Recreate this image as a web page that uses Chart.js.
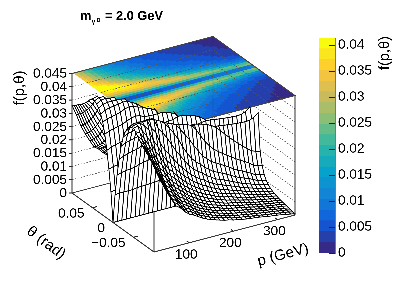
<!DOCTYPE html>
<html>
<head>
<meta charset="utf-8">
<style>
  html, body { margin: 0; padding: 0; background: #fff; }
  #wrap { position: relative; width: 399px; height: 291px; overflow: hidden; }
  #surfaceChart { position: absolute; left: 0; top: 0; }
  #barChart { position: absolute; left: 309px; top: 0; }
</style>
<script src="https://cdn.jsdelivr.net/npm/chart.js@4"></script>
</head>
<body>
<div id="wrap">
  <canvas id="surfaceChart" width="399" height="291"></canvas>
  <canvas id="barChart" width="90" height="291"></canvas>
</div>
<script>
// p in GeV, |theta| in rad, f in units of 1e-4 (one row per p)
const pValues = [20, 30, 40, 50, 60, 70, 80, 90, 100, 110, 120, 130, 140, 150, 160, 170, 180, 190, 200, 210, 220, 230, 240, 250, 260, 270, 280, 290, 300, 310, 320, 330, 340];
const thetaAbs = [0, 0.005, 0.01, 0.015, 0.02, 0.025, 0.03, 0.035, 0.04, 0.045, 0.05, 0.055, 0.06, 0.065, 0.07, 0.075, 0.08, 0.085, 0.09, 0.095, 0.1];
const fRows = [
  [0, 110, 190, 255, 310, 350, 375, 392, 402, 408, 410, 403, 391, 381, 371, 363, 355, 349, 342, 336, 330],
  [0, 112, 195, 262, 318, 358, 385, 402, 412, 416, 415, 394, 375, 360, 347, 335, 325, 315, 306, 298, 290],
  [0, 112, 198, 268, 322, 362, 390, 405, 414, 415, 392, 367, 346, 328, 312, 298, 285, 273, 263, 253, 245],
  [0, 112, 200, 272, 326, 365, 392, 405, 410, 400, 368, 340, 316, 296, 279, 264, 251, 239, 229, 219, 210],
  [0, 112, 202, 275, 330, 370, 395, 405, 410, 380, 338, 308, 284, 265, 248, 233, 220, 208, 198, 188, 180],
  [0, 115, 208, 282, 338, 378, 398, 404, 378, 336, 301, 274, 251, 232, 216, 202, 189, 178, 168, 160, 152],
  [0, 116, 212, 288, 345, 382, 398, 400, 358, 310, 278, 252, 232, 214, 199, 186, 174, 164, 155, 147, 140],
  [0, 116, 215, 292, 348, 378, 388, 362, 312, 275, 247, 224, 205, 189, 175, 164, 153, 144, 136, 129, 122],
  [0, 118, 218, 293, 345, 372, 380, 342, 285, 249, 223, 202, 184, 170, 157, 146, 136, 128, 120, 114, 108],
  [0, 118, 214, 287, 337, 368, 366, 318, 262, 230, 206, 187, 171, 157, 145, 135, 126, 119, 112, 106, 100],
  [0, 121, 217, 289, 336, 358, 345, 290, 240, 210, 187, 169, 154, 142, 131, 122, 114, 107, 100, 95, 90],
  [0, 125, 222, 292, 335, 352, 322, 262, 218, 190, 170, 153, 139, 127, 118, 109, 102, 95, 89, 84, 80],
  [0, 129, 228, 296, 335, 343, 295, 238, 198, 173, 154, 139, 126, 116, 107, 99, 92, 86, 81, 77, 72],
  [0, 134, 235, 302, 336, 320, 262, 215, 181, 159, 141, 127, 116, 106, 98, 90, 84, 79, 74, 70, 66],
  [0, 139, 241, 305, 331, 298, 234, 192, 164, 144, 128, 116, 105, 96, 89, 82, 77, 72, 67, 63, 60],
  [0, 142, 244, 305, 325, 275, 210, 175, 151, 133, 118, 106, 97, 88, 81, 75, 70, 66, 62, 58, 55],
  [0, 146, 248, 312, 318, 248, 192, 162, 139, 122, 108, 97, 88, 81, 74, 69, 64, 60, 56, 53, 50],
  [0, 151, 253, 313, 298, 224, 179, 151, 130, 114, 101, 91, 83, 76, 70, 65, 60, 56, 53, 50, 47],
  [0, 156, 257, 309, 270, 200, 163, 137, 118, 103, 92, 82, 74, 68, 63, 58, 54, 50, 47, 44, 42],
  [0, 161, 262, 304, 245, 185, 151, 127, 109, 96, 85, 77, 70, 63, 59, 54, 50, 47, 44, 41, 39],
  [0, 167, 270, 298, 224, 170, 138, 116, 100, 88, 78, 70, 64, 58, 54, 50, 46, 43, 40, 38, 36],
  [0, 168, 274, 290, 207, 161, 131, 110, 95, 83, 74, 67, 60, 55, 51, 47, 44, 41, 38, 36, 33],
  [0, 170, 276, 278, 194, 151, 123, 103, 88, 77, 68, 62, 56, 51, 47, 44, 40, 38, 35, 33, 31],
  [0, 172, 275, 262, 182, 142, 115, 96, 82, 71, 63, 56, 51, 47, 43, 40, 37, 34, 32, 30, 29],
  [0, 174, 272, 245, 171, 132, 106, 88, 76, 66, 59, 52, 47, 43, 40, 37, 34, 31, 30, 28, 27],
  [0, 176, 270, 228, 160, 121, 97, 81, 69, 60, 54, 48, 43, 39, 36, 33, 31, 29, 27, 25, 24],
  [0, 178, 268, 212, 149, 111, 89, 73, 62, 54, 48, 42, 38, 35, 32, 29, 27, 26, 24, 22, 21],
  [0, 182, 266, 197, 139, 104, 83, 67, 57, 49, 44, 39, 35, 32, 29, 27, 25, 23, 22, 20, 19],
  [0, 186, 265, 183, 130, 95, 77, 62, 52, 45, 40, 36, 32, 29, 26, 24, 23, 21, 20, 18, 17],
  [0, 189, 264, 169, 120, 87, 69, 56, 47, 40, 35, 31, 28, 25, 23, 21, 20, 18, 17, 15, 14],
  [0, 191, 265, 156, 107, 77, 61, 50, 42, 36, 31, 28, 25, 22, 20, 19, 17, 16, 14, 13, 11],
  [0, 210, 272, 150, 102, 73, 57, 46, 38, 32, 28, 25, 22, 20, 18, 16, 15, 13, 12, 10, 8],
  [0, 240, 285, 144, 97, 68, 52, 42, 34, 29, 25, 22, 19, 17, 15, 13, 12, 10, 8, 6, 5]
];
const zTicks = [0, 0.005, 0.01, 0.015, 0.02, 0.025, 0.03, 0.035, 0.04, 0.045];
const zTickLabels = ['0', '0.005', '0.01', '0.015', '0.02', '0.025', '0.03', '0.035', '0.04', '0.045'];
const pTicks = [100, 200, 300];
const pTickLabels = ['100', '200', '300'];
const thetaTicks = [0.05, 0, -0.05];
const thetaTickLabels = ['0.05', '0', '\u22120.05'];
const barColors = ['#352a87', '#253fab', '#1554cf', '#1066db', '#1275d8', '#1385d5', '#0d93d0', '#07a2cb', '#15abbc', '#26b3ac',
  '#41b99b', '#66bc88', '#8bbf75', '#aabd69', '#c9bb5c', '#dfbf4d', '#f2c43f', '#fdd02c', '#fbe61d', '#f9fb0e'];
const barMax = 0.0413;
const zMax = 0.045;

const pMin = 20, pMax = 340, thetaMax = 0.1;
const thetaAll = [...thetaAbs.slice(1).reverse().map(v => -v), ...thetaAbs];
// a dash with no gap is still solid, but keeps Chart.js off its pixel-rounding line path
const solid = [100, 0];
const renderScale = 3;

function fAt(i, j) {
  // the picture is mirror-symmetric about theta = 0
  return fRows[i][Math.abs(j - (thetaAbs.length - 1))] * 1e-4;
}

// box corners on screen: the view is orthographic, so the three edges are enough
function project(p, theta, f) {
  const t = (p - pMin) / (pMax - pMin);
  const s = (theta + thetaMax) / (2 * thetaMax);
  return {
    x: 154 + 141 * t - 82 * s,
    y: 252 - 37 * t - 59 * s - 119.5 * f / zMax
  };
}

function lineSet(points, color, width, dash) {
  return { data: points, borderColor: color, borderWidth: width, borderDash: dash || solid, pointRadius: 0, fill: false, tension: 0, clip: false };
}

function cellSet(points, fillColor, lineColor, width) {
  return { data: points, borderColor: lineColor, backgroundColor: fillColor, borderWidth: width, borderDash: solid, pointRadius: 0, fill: 'shape', tension: 0, clip: false };
}

function colorFor(f) {
  const idx = Math.floor(f / barMax * barColors.length);
  return barColors[Math.min(barColors.length - 1, Math.max(0, idx))];
}

function buildDatasets() {
  const front = [];   // drawn last
  const surface = [];
  const walls = [];
  const heat = [];    // drawn first

  // axes and front box edges
  front.push(lineSet([project(pMin, -thetaMax, 0), project(pMax, -thetaMax, 0)], '#333', 1));
  front.push(lineSet([project(pMin, -thetaMax, 0), project(pMin, thetaMax, 0)], '#333', 1));
  front.push(lineSet([project(pMax, -thetaMax, 0), project(pMax, -thetaMax, zMax)], '#333', 1));
  front.push(lineSet([project(pMin, thetaMax, 0), project(pMin, thetaMax, zMax)], '#333', 1));
  zTicks.forEach(z => {
    const a = project(pMin, thetaMax, z);
    front.push(lineSet([a, { x: a.x - 3, y: a.y }], '#222', 1));
  });
  pTicks.forEach(p => {
    front.push(lineSet([project(p, -thetaMax, 0), project(p, -thetaMax + 0.006, 0)], '#222', 1));
  });
  thetaTicks.forEach(th => {
    front.push(lineSet([project(pMin, th, 0), project(pMin + 10, th, 0)], '#222', 1));
  });

  // surface, nearest cell first
  for (let i = 0; i < pValues.length - 1; i++) {
    for (let j = 0; j < thetaAll.length - 1; j++) {
      surface.push(cellSet([
        project(pValues[i], thetaAll[j], fAt(i, j)),
        project(pValues[i + 1], thetaAll[j], fAt(i + 1, j)),
        project(pValues[i + 1], thetaAll[j + 1], fAt(i + 1, j + 1)),
        project(pValues[i], thetaAll[j + 1], fAt(i, j + 1)),
        project(pValues[i], thetaAll[j], fAt(i, j))
      ], '#fff', '#000', 0.85));
    }
  }

  // back walls, floor edges and grid
  walls.push(lineSet([project(pMin, -thetaMax, 0), project(pMin, -thetaMax, zMax)], '#444', 1));
  walls.push(lineSet([project(pMin, thetaMax, 0), project(pMax, thetaMax, 0), project(pMax, -thetaMax, 0)], '#333', 0.8));
  walls.push(lineSet([project(pMax, thetaMax, 0), project(pMax, thetaMax, zMax)], '#222', 0.7));
  walls.push(lineSet([project(pMin, thetaMax, zMax), project(pMax, thetaMax, zMax), project(pMax, -thetaMax, zMax), project(pMin, -thetaMax, zMax)], '#444', 1));
  walls.push(lineSet([project(pMin, thetaMax, zMax), project(pMin, -thetaMax, zMax)], '#fff', 2));
  zTicks.slice(1, -1).forEach(z => {
    walls.push(lineSet([project(pMin, thetaMax, z), project(pMax, thetaMax, z), project(pMax, -thetaMax, z)], '#555', 0.7, [1.5, 1.5]));
  });

  // colour map on the roof of the box
  for (let i = 0; i < pValues.length - 1; i++) {
    for (let j = 0; j < thetaAll.length - 1; j++) {
      const avg = (fAt(i, j) + fAt(i + 1, j) + fAt(i + 1, j + 1) + fAt(i, j + 1)) / 4;
      const c = colorFor(avg);
      heat.push(cellSet([
        project(pValues[i], thetaAll[j], zMax),
        project(pValues[i + 1], thetaAll[j], zMax),
        project(pValues[i + 1], thetaAll[j + 1], zMax),
        project(pValues[i], thetaAll[j + 1], zMax),
        project(pValues[i], thetaAll[j], zMax)
      ], c, c, 0.6));
    }
  }
  return [...front, ...surface, ...walls, ...heat];
}

const labelFont = '13.6px "Liberation Sans"';

const textPlugin = {
  id: 'boxText',
  afterDraw(chart) {
    const ctx = chart.ctx;
    ctx.save();
    ctx.fillStyle = '#000';
    ctx.textBaseline = 'middle';
    ctx.font = labelFont;
    ctx.textAlign = 'right';
    zTicks.forEach((z, i) => {
      const a = project(pMin, thetaMax, z);
      ctx.fillText(zTickLabels[i], a.x - 5, a.y + 0.5);
    });
    thetaTicks.forEach((th, i) => {
      const a = project(pMin, th, 0);
      ctx.fillText(thetaTickLabels[i], a.x - 8, a.y + 6);
    });
    ctx.textAlign = 'center';
    pTicks.forEach((p, i) => {
      const a = project(p, -thetaMax, 0);
      ctx.fillText(pTickLabels[i], a.x - 3, a.y + 12);
    });

    ctx.font = '15px "Liberation Sans"';
    ctx.save();
    ctx.translate(20, 88);
    ctx.rotate(-Math.PI / 2);
    ctx.fillText('f(p,\u03b8)', 0, 0);
    ctx.restore();

    ctx.save();
    ctx.translate(46, 243);
    ctx.rotate(37 * Math.PI / 180);
    ctx.fillText('\u03b8 (rad)', 0, 0);
    ctx.restore();
    ctx.save();
    ctx.translate(283, 255);
    ctx.rotate(-15 * Math.PI / 180);
    ctx.fillText('p (GeV)', 0, 0);
    ctx.restore();

    ctx.textAlign = 'left';
    ctx.textBaseline = 'alphabetic';
    ctx.font = 'bold 12.8px "Liberation Sans"';
    ctx.fillText('m', 80, 20);
    ctx.fillText('= 2.0 GeV', 105, 20);
    ctx.font = 'bold 7px "Liberation Sans"';
    ctx.fillText('\u03b3', 91.5, 23.5);
    ctx.font = 'bold 5.5px "Liberation Sans"';
    ctx.fillText('D', 96.5, 22);
    ctx.restore();
  }
};

new Chart(document.getElementById('surfaceChart'), {
  type: 'line',
  data: { datasets: buildDatasets() },
  options: {
    responsive: false,
    devicePixelRatio: renderScale,
    animation: false,
    events: [],
    layout: { padding: 0 },
    plugins: { legend: { display: false }, tooltip: { enabled: false }, filler: { propagate: false } },
    scales: {
      x: { type: 'linear', display: false, min: 0, max: 399 },
      y: { type: 'linear', display: false, min: 0, max: 291, reverse: true }
    }
  },
  plugins: [textPlugin]
});

const barTicks = {
  id: 'barTicks',
  afterDraw(chart) {
    const ctx = chart.ctx, y = chart.scales.y, right = chart.chartArea.right;
    ctx.save();
    ctx.strokeStyle = '#222';
    ctx.lineWidth = 1;
    y.ticks.forEach(tk => {
      const py = Math.round(y.getPixelForValue(tk.value)) + 0.5;
      ctx.beginPath();
      ctx.moveTo(right, py);
      ctx.lineTo(right - 6, py);
      ctx.stroke();
    });
    ctx.fillStyle = '#000';
    ctx.font = '14.5px "Liberation Sans"';
    ctx.textAlign = 'center';
    ctx.textBaseline = 'middle';
    ctx.translate(76, 53);
    ctx.rotate(-Math.PI / 2);
    ctx.fillText('f(p,\u03b8)', 0, 0);
    ctx.restore();
  }
};

new Chart(document.getElementById('barChart'), {
  type: 'bar',
  data: {
    labels: ['f'],
    datasets: barColors.map(c => ({ data: [barMax / barColors.length], backgroundColor: c, barPercentage: 1, categoryPercentage: 1 }))
  },
  options: {
    responsive: false,
    devicePixelRatio: renderScale,
    animation: false,
    events: [],
    layout: { padding: { left: 10, top: 38, bottom: 38, right: 0 } },
    plugins: { legend: { display: false }, tooltip: { enabled: false } },
    scales: {
      x: { stacked: true, display: false },
      y: {
        stacked: true,
        position: 'right',
        min: 0,
        max: barMax,
        afterFit(scale) { scale.width = 64; },
        afterBuildTicks(scale) { scale.ticks = zTicks.slice(0, -1).map(v => ({ value: v })); },
        grid: { display: false, drawTicks: false },
        border: { display: true, color: '#777', width: 1 },
        ticks: {
          padding: 3,
          color: '#000',
          font: { family: 'Liberation Sans', size: 13.6 },
          callback: (v) => zTickLabels[zTicks.indexOf(v)]
        }
      }
    }
  },
  plugins: [barTicks]
});
</script>
</body>
</html>
